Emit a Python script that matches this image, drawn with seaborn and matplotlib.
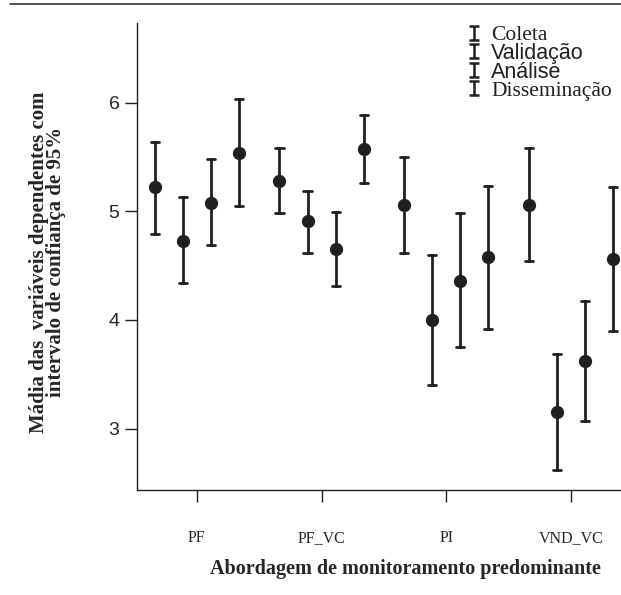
import matplotlib.pyplot as plt
import numpy as np
import pandas as pd
import seaborn as sns
from matplotlib.lines import Line2D
from matplotlib.path import Path

abordagens = ['PF', 'PF_VC', 'PI', 'VND_VC']
etapas = ['Coleta', 'Validação', 'Análise', 'Disseminação']

# linhas: abordagem, colunas: etapa
medias = [[5.22, 4.73, 5.08, 5.54],
          [5.28, 4.91, 4.65, 5.57],
          [5.06, 4.00, 4.36, 4.58],
          [5.06, 3.15, 3.62, 4.56]]
ic_inf = [[4.79, 4.34, 4.69, 5.05],
          [4.98, 4.62, 4.31, 5.26],
          [4.62, 3.40, 3.75, 3.92],
          [4.54, 2.62, 3.07, 3.90]]
ic_sup = [[5.64, 5.13, 5.48, 6.03],
          [5.58, 5.19, 4.99, 5.89],
          [5.50, 4.60, 4.98, 5.23],
          [5.58, 3.69, 4.17, 5.22]]

COR = '#231f20'
SERIF = 'Liberation Serif'
SANS = 'Liberation Sans'

sns.set_style('ticks')
plt.rcParams['font.family'] = [SERIF, 'DejaVu Serif']

# cada celula vira tres linhas (inf, media, sup); mediana = media, faixa = IC
rows = []
for i, a in enumerate(abordagens):
    for j, e in enumerate(etapas):
        for v in (ic_inf[i][j], medias[i][j], ic_sup[i][j]):
            rows.append({'abordagem': a, 'etapa': e, 'valor': v})
df = pd.DataFrame(rows)

fig = plt.figure(figsize=(6.21, 5.95), dpi=100)
ax = fig.add_axes([137 / 621, 105 / 595, 484 / 621, 467 / 595])

sns.pointplot(data=df, x='abordagem', y='valor', hue='etapa',
              order=abordagens, hue_order=etapas,
              estimator='median', errorbar=lambda v: (v.min(), v.max()),
              palette=[COR] * 4, markers='o', linestyle='none',
              dodge=0.674, capsize=0.065, markersize=7.5,
              err_kws={'linewidth': 2.0}, legend=False, ax=ax)

ax.set_xlim(-0.479, 3.40)
ax.set_ylim(2.434, 6.734)
ax.set_yticks([3, 4, 5, 6])
sns.despine(ax=ax)
for s in ('left', 'bottom'):
    ax.spines[s].set_linewidth(1.0)
    ax.spines[s].set_color(COR)

ax.tick_params(axis='x', length=8.6, width=1.0, pad=20, color=COR)
ax.tick_params(axis='y', length=8.6, width=1.0, pad=4, color=COR)
for t in ax.get_xticklabels():
    t.set_fontfamily(SERIF)
    t.set_fontsize(11.5)
for t in ax.get_yticklabels():
    t.set_fontfamily(SANS)
    t.set_fontsize(14)

ax.set_xlabel('Abordagem de monitoramento predominante',
              fontfamily=SERIF, fontweight='bold', fontsize=14.5)
ax.xaxis.set_label_coords(0.554, -0.148)
ax.set_ylabel('Mádia das  variáveis dependentes com\nintervalo de confiança de 95%',
              fontfamily=SERIF, fontweight='bold', fontsize=15, linespacing=0.82)
ax.yaxis.set_label_coords(-0.146, 0.488)

# simbolo de barra de erro para a legenda
barra = Path([(-0.7, 1), (0.7, 1), (0, 1), (0, -1), (-0.7, -1), (0.7, -1)],
             [Path.MOVETO, Path.LINETO, Path.MOVETO, Path.LINETO,
              Path.MOVETO, Path.LINETO])
handles = [Line2D([], [], marker=barra, markersize=10, markeredgewidth=1.8,
                  color=COR, linestyle='none') for _ in etapas]
leg = ax.legend(handles, etapas, loc='upper left',
                bbox_to_anchor=(463 / 621, 1 - 25 / 595),
                bbox_transform=fig.transFigure, frameon=False,
                borderpad=0, borderaxespad=0, handlelength=1.0,
                handletextpad=0.3, labelspacing=-0.1, fontsize=15.5)
fontes = [SERIF, SANS, SANS, SERIF]
for t, f in zip(leg.get_texts(), fontes):
    t.set_fontfamily(f)
    t.set_color(COR)

fig.add_artist(Line2D([10 / 621, 1], [1 - 4 / 595] * 2,
                      transform=fig.transFigure, color=COR, linewidth=1.1))

fig.savefig('out.png', dpi=100)
